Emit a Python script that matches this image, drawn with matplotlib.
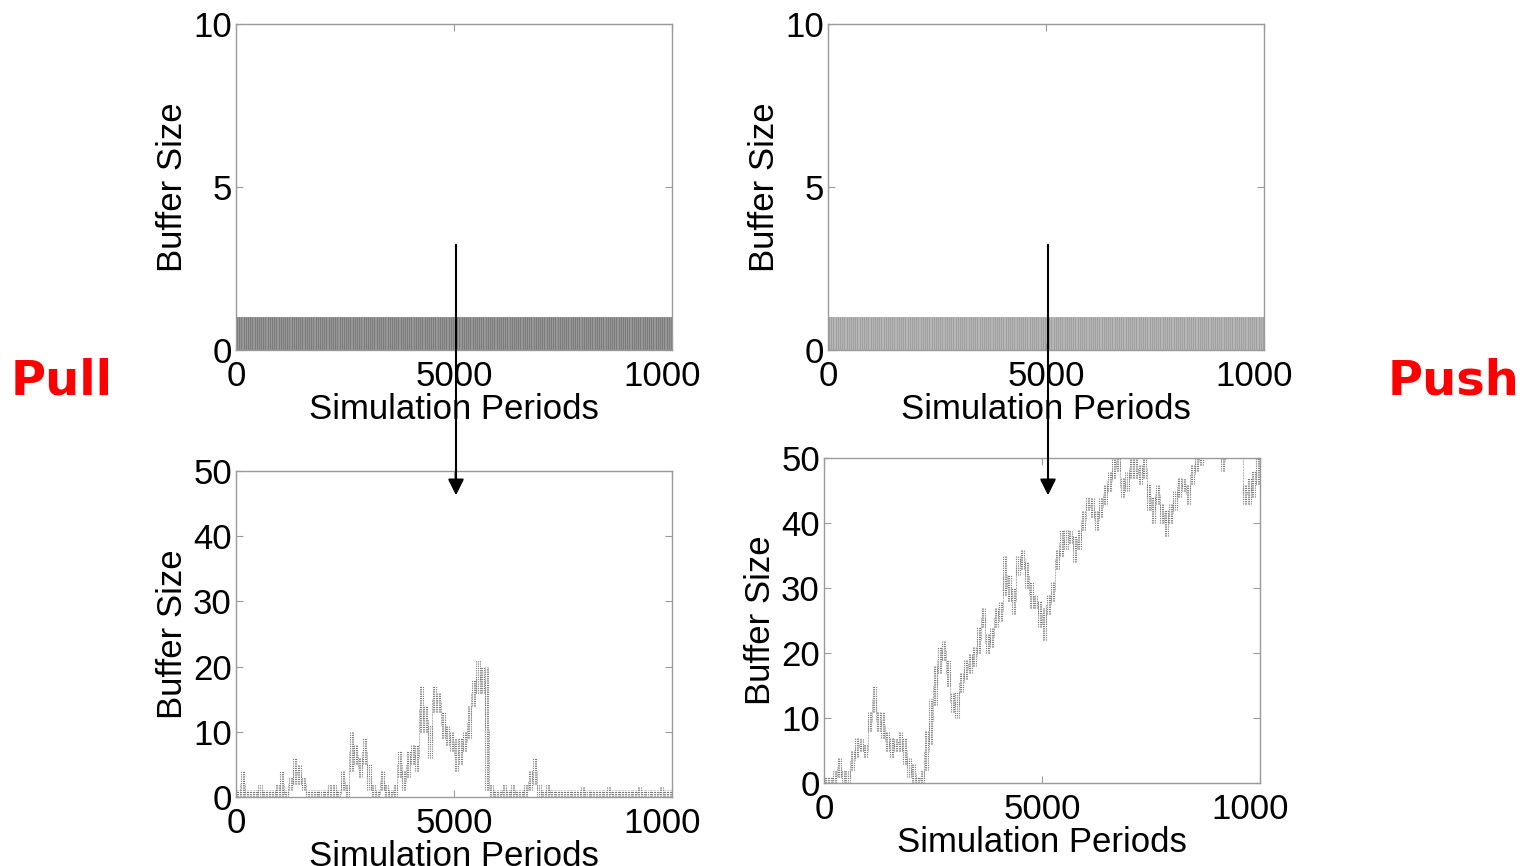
import matplotlib
matplotlib.use("Agg")
import matplotlib.pyplot as plt
from matplotlib.patches import FancyArrowPatch
from matplotlib.transforms import ScaledTranslation
import numpy as np

plt.rcParams['font.family'] = ['Liberation Sans', 'DejaVu Sans']

# Simulation length and bin width (periods per bin)
n_periods = 10000
bin_width = 100

# Top row: buffer stays within 0..1 for the whole run (low/high per bin)
pull_top_low = [0] * 100
pull_top_high = [1] * 100
push_top_low = [0] * 100
push_top_high = [1] * 100

# Bottom-left (pull with disturbances): low / high buffer level per 100-period bin
pull_low = [0, 0, 0, 0, 0, 0, 0, 0, 0, 0,
            0, 0, 1, 2, 2, 1, 0, 0, 0, 0,
            0, 0, 0, 0, 1, 0, 4, 5, 3, 5,
            1, 0, 0, 1, 0, 0, 0, 3, 1, 3,
            5, 4, 10, 10, 6, 13, 13, 9, 8, 7,
            4, 5, 7, 9, 14, 16, 16, 1, 0, 0,
            0, 0, 0, 0, 0, 0, 0, 1, 2, 0,
            0, 0, 0, 0, 0, 0, 0, 0, 0, 0,
            0, 0, 0, 0, 0, 0, 0, 0, 0, 0,
            0, 0, 0, 0, 0, 0, 0, 0, 0, 0]
pull_high = [1, 4, 1, 1, 1, 2, 1, 1, 1, 2,
             4, 1, 3, 6, 5, 3, 1, 1, 1, 1,
             1, 2, 2, 1, 4, 2, 10, 8, 6, 9,
             5, 2, 1, 4, 2, 1, 2, 7, 4, 7,
             8, 8, 17, 14, 11, 17, 16, 13, 11, 10,
             9, 9, 10, 14, 18, 21, 20, 20, 2, 1,
             1, 2, 1, 2, 1, 1, 2, 4, 6, 2,
             1, 2, 1, 1, 1, 1, 1, 1, 1, 1.5,
             1, 1, 1, 1, 1, 1.5, 1, 1, 1, 1,
             1, 1, 1.5, 1, 1, 1, 1, 1.5, 1, 1]

# Bottom-right (push with disturbances): low / high buffer level per 100-period bin
push_low = [0, 0, 0, 1, 0, 0, 2, 4, 5, 4,
            8, 11, 8, 7, 5, 4, 5, 5, 3, 1,
            0, 0, 0, 2, 6, 12, 17, 19, 15, 11,
            10, 14, 16, 17, 18, 20, 24, 20, 21, 24,
            25, 29, 28, 26, 32, 33, 30, 27, 27, 24,
            22, 26, 28, 33, 35, 36, 37, 34, 36, 39,
            42, 41, 39, 41, 43, 45, 47, 48, 44, 45,
            47, 47, 46, 47, 42, 40, 43, 40, 38, 40,
            42, 44, 45, 43, 46, 48, 49, 50, 50, 50,
            50, 48, 50, 50, 50, 50, 43, 43, 44, 46]
push_high = [1, 1, 2, 4, 2, 2, 5, 7, 7, 6,
             11, 15, 11, 11, 8, 7, 7, 8, 7, 4,
             3, 1, 2, 8, 13, 18, 21, 22, 19, 14,
             14, 17, 19, 20, 21, 24, 27, 23, 24, 27,
             28, 35, 32, 30, 35, 36, 34, 31, 29, 28,
             27, 29, 31, 36, 39, 39, 39, 38, 39, 42,
             44, 44, 42, 44, 46, 48, 50, 51, 47, 48,
             50, 50, 49, 50, 46, 44, 46, 43, 42, 43,
             45, 47, 47, 46, 49, 51, 52, 53, 53, 53,
             52, 51, 52, 52, 52, 52, 46, 47, 48, 50]

x_ticks = [0, 5000, 10000]
x_tick_labels = ['0', '5000', '1000']
top_y_ticks = [0, 5, 10]
bottom_y_ticks = [0, 10, 20, 30, 40, 50]

W, H = 1526, 866
fig = plt.figure(figsize=(W / 100, H / 100), dpi=100)
fig.patch.set_facecolor('white')


def axes_px(left, top, right, bottom):
    return fig.add_axes([left / W, 1 - bottom / H, (right - left) / W, (bottom - top) / H])


ax_tl = axes_px(236, 24, 672, 350)
ax_tr = axes_px(828, 24, 1264, 350)
ax_bl = axes_px(236, 471, 672, 797)
ax_br = axes_px(824, 458, 1260, 783)


def draw_trace(ax, low, high, color, lw=0.8):
    low = np.asarray(low, float)
    high = np.asarray(high, float)
    n = len(low)
    starts = np.arange(n) * bin_width
    for off in (15, 50, 85):
        ax.vlines(starts + off, low, high, colors=color, linewidth=lw,
                  linestyles=(0, (1.0, 1.0)))
    # connect neighbouring bins
    mid = (low + high) / 2
    edges = starts[1:]
    ax.vlines(edges, np.minimum(mid[:-1], mid[1:]), np.maximum(mid[:-1], mid[1:]),
              colors=color, linewidth=lw * 0.7, linestyles=(0, (1.0, 1.0)))


def draw_band(ax, low, high, fill, stripe):
    low = np.asarray(low, float)
    high = np.asarray(high, float)
    edges = np.arange(len(low) + 1) * bin_width
    ax.fill_between(edges, np.append(low, low[-1]), np.append(high, high[-1]),
                    step='post', color=fill, linewidth=0)
    starts = np.arange(len(low)) * bin_width
    for off in (25, 75):
        ax.vlines(starts + off, low, high, colors=stripe, linewidth=0.7, alpha=0.5)


def style_axes(ax, ymax, yticks):
    ax.set_xlim(0, n_periods)
    ax.set_ylim(0, ymax)
    ax.set_xticks(x_ticks)
    ax.set_xticklabels(x_tick_labels)
    ax.set_yticks(yticks)
    ax.set_yticklabels([str(t) for t in yticks])
    for s in ax.spines.values():
        s.set_color('#9a9a9a')
        s.set_linewidth(1.0)
    ax.tick_params(direction='in', length=5, width=0.8, color='#9a9a9a',
                   top=True, right=True, labelsize=25, labelcolor='black')
    ax.tick_params(axis='x', pad=7)
    ax.tick_params(axis='y', pad=3)
    ax.set_xlabel('Simulation Periods', fontsize=25, labelpad=0)
    ax.set_ylabel('Buffer Size', fontsize=25, labelpad=3)
    last = ax.get_xticklabels()[-1]
    last.set_transform(last.get_transform() + ScaledTranslation(-0.095, 0, fig.dpi_scale_trans))


draw_band(ax_tl, pull_top_low, pull_top_high, '#979797', '#5e5e5e')
draw_band(ax_tr, push_top_low, push_top_high, '#b6b6b6', '#888888')
draw_trace(ax_bl, pull_low, pull_high, '#7a7a7a')
draw_trace(ax_br, push_low, push_high, '#7a7a7a')

style_axes(ax_tl, 10, top_y_ticks)
style_axes(ax_tr, 10, top_y_ticks)
style_axes(ax_bl, 50, bottom_y_ticks)
style_axes(ax_br, 50, bottom_y_ticks)

# Arrows linking the undisturbed runs to the disturbed runs
for x in (456, 1048):
    arr = FancyArrowPatch((x / W, 1 - 242 / H), (x / W, 1 - 498 / H),
                          transform=fig.transFigure, arrowstyle='-|>',
                          mutation_scale=24, color='black', linewidth=1.5)
    fig.add_artist(arr)

fig.text(62 / W, 1 - 381 / H, 'Pull', color='#ff0000', fontsize=34.5,
         fontweight='bold', family='DejaVu Sans', ha='center', va='center')
fig.text(1453 / W, 1 - 381 / H, 'Push', color='#ff0000', fontsize=34.5,
         fontweight='bold', family='DejaVu Sans', ha='center', va='center')

fig.savefig('out.png', dpi=100, facecolor='white')
